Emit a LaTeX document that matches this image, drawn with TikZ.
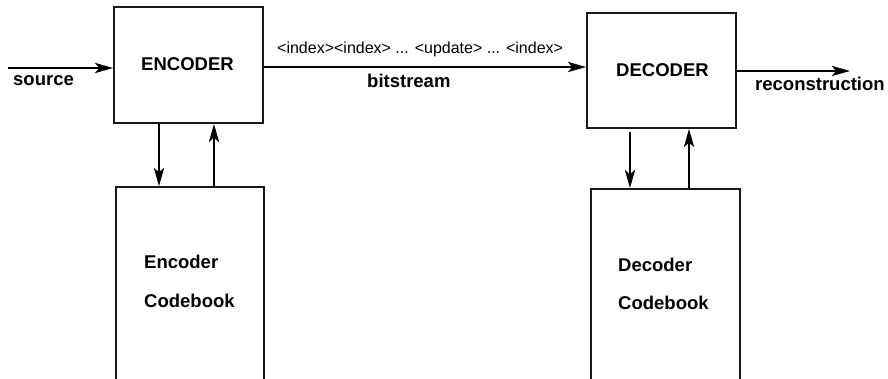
\documentclass[tikz,border=0pt]{standalone}
\usepackage{fontspec}
\setmainfont{Liberation Sans}
\usetikzlibrary{arrows.meta}
\begin{document}
\begin{tikzpicture}[x=1pt,y=-1pt,
  box/.style={draw=black!90,line width=1.6pt,inner sep=0pt,minimum width=149pt},
  conn/.style={line width=2.7pt,-{Stealth[length=18pt,width=10pt,inset=4pt]}},
  bold/.style={font=\fontsize{18.5}{20}\selectfont\bfseries,inner sep=0pt},
  plain/.style={font=\fontsize{16}{18}\selectfont,inner sep=0pt}]
\clip (0,0) rectangle (888,379);
% boxes
\node[box,minimum height=116pt] (enc) at (188.5,65) {};
\node[box,minimum height=115pt] (dec) at (661.5,70.5) {};
\node[box,minimum width=148pt,minimum height=213pt] (ecb) at (190,293.5) {};
\node[box,minimum height=211pt] (dcb) at (665.5,294.5) {};
% labels
\node[bold,anchor=base west] (enct) at (141,71) {ENCODER};
\node[bold,anchor=base west] (dect) at (616,77) {DECODER};
\node[bold,anchor=base west] (srct) at (13,86) {source};
\node[bold,anchor=base west] (rect) at (755,91) {reconstruction};
\node[bold,anchor=base west] (bst) at (367,88) {bitstream};
\node[plain,anchor=base west] (idx) at (277,54) {<index><index> ... <update> ... <index>};
\node[bold,anchor=base west] (ecb1) at (144,269) {Encoder};
\node[bold,anchor=base west] (ecb2) at (144,307) {Codebook};
\node[bold,anchor=base west] (dcb1) at (618,272) {Decoder};
\node[bold,anchor=base west] (dcb2) at (618,309) {Codebook};
% connector helper coordinates
\coordinate (src) at (8,68);
\coordinate (bs) at (0,67);
\coordinate (rc) at (850,71);
\coordinate (e1) at (159,0);
\coordinate (e2) at (214,0);
\coordinate (d1) at (630,0);
\coordinate (d2) at (689,0);
% connectors
\draw[conn] (src) -- (src -| enc.west);
\draw[conn] (enc.east |- bs) -- (dec.west |- bs);
\draw[conn] (dec.east |- rc) -- (rc);
\draw[conn] (e1 |- enc.south) -- (e1 |- ecb.north);
\draw[conn] (e2 |- ecb.north) -- (e2 |- enc.south);
\draw[conn] ([yshift=-3pt]d1 |- dec.south) -- (d1 |- dcb.north);
\draw[conn] (d2 |- dcb.north) -- (d2 |- dec.south);
\end{tikzpicture}
\end{document}
